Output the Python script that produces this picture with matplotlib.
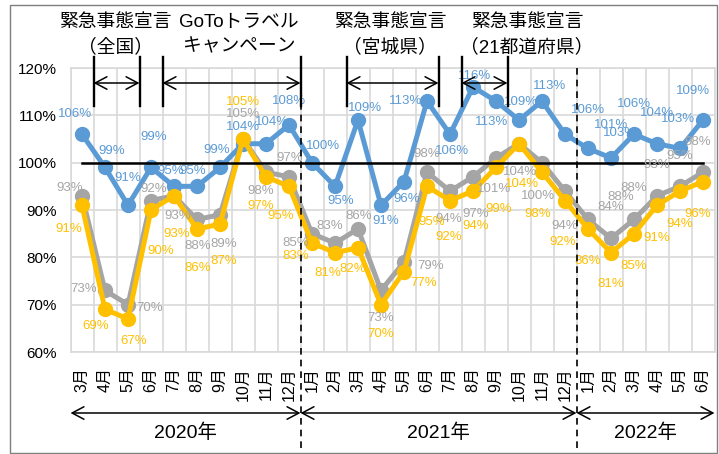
import numpy as np
import matplotlib
matplotlib.use("Agg")
import matplotlib.pyplot as plt
from matplotlib.patches import Rectangle

plt.rcParams['font.family'] = ['Liberation Sans', 'Noto Sans CJK JP']

# Data (monthly index, %)
months = ["3月", "4月", "5月", "6月", "7月", "8月", "9月", "10月", "11月", "12月",
          "1月", "2月", "3月", "4月", "5月", "6月", "7月", "8月", "9月", "10月", "11月", "12月",
          "1月", "2月", "3月", "4月", "5月", "6月"]
years = ["2020年", "2021年", "2022年"]
yearMonths = [10, 12, 6]
blue = [106, 99, 91, 99, 95, 95, 99, 104, 104, 108,
        100, 95, 109, 91, 96, 113, 106, 116, 113, 109, 113, 106,
        103, 101, 106, 104, 103, 109]
gray = [93, 73, 70, 92, 93, 88, 89, 105, 98, 97,
        85, 83, 86, 73, 79, 98, 94, 97, 101, 104, 100, 94,
        88, 84, 88, 93, 95, 98]
yellow = [91, 69, 67, 90, 93, 86, 87, 105, 97, 95,
          83, 81, 82, 70, 77, 95, 92, 94, 99, 104, 98, 92,
          86, 81, 85, 91, 94, 96]
baseline = 100

# Events: (first month index, last month index)
eventSpans = [(1, 2), (4, 9), (12, 15), (17, 18)]
eventLine1 = ["緊急事態宣言", "GoToトラベル", "緊急事態宣言", "緊急事態宣言"]
eventLine2 = ["（全国）", "キャンペーン", "（宮城県）", "（21都道府県）"]

# Layout / style
cBlue, cGray, cYellow = "#5B9BD5", "#A5A5A5", "#FFC000"
eventTextX = [1.45, 6.83, 13.39, 19.35]

# label offsets (pixels) for each point
offBlue = [(-7, 20), (7, 16), (0, 27), (3, 30), (-3, 15), (-4, 15), (-3, 17), (0, 17), (6, 22), (0, 24),
           (11, 17), (6, -15), (7, 12), (5, -16), (3, -17), (-21, 0), (2, -17), (2, 11), (-4, -21), (2, 18), (8, 15), (23, 24),
           (32, 15), (0, 33), (0, 30), (0, 31), (-2, 29), (-10, 29)]
offGray = [(-12, 8), (-21, 1), (22, -3), (3, 12), (4, -20), (1, -27), (4, -29), (0, 25), (-5, -19), (1, 19),
           (-16, -9), (-5, 17), (1, 13), (0, -28), (27, -4), (0, 18), (-1, -28), (3, -37), (-2, -31), (1, -28), (-4, -33), (0, -35),
           (33, 22), (0, 31), (0, 31), (0, 31), (0, 30), (-5, 30)]
offYellow = [(-13, -24), (-9, -17), (6, -22), (10, -41), (3, -38), (1, -39), (4, -37), (0, 37), (-5, -29), (-8, -30),
             (-16, -13), (-7, -20), (-5, -21), (0, -29), (20, -11), (5, -36), (-1, -36), (3, -35), (3, -42), (3, -40), (-4, -42), (-2, -41),
             (0, -32), (0, -31), (0, -32), (0, -33), (0, -33), (-5, -32)]

fig = plt.figure(figsize=(7.19, 4.54), dpi=100)
W, H = 719, 454
axL, axR, axT, axB = 70.5, 714.5, 68, 352
ax = fig.add_axes([axL / W, 1 - axB / H, (axR - axL) / W, (axB - axT) / H])

x = np.arange(len(months))
ax.set_xlim(-0.5, len(months) - 0.5)
ax.set_ylim(60, 120)

# grid
ax.set_yticks(np.arange(60, 121, 10))
ax.set_yticklabels([f"{v}%" for v in range(60, 121, 10)], fontsize=11)
ax.set_xticks(x)
ax.set_xticklabels(months, rotation=90, fontsize=11.5, va='top')
ax.set_xticks(np.arange(-0.5, len(months), 1), minor=True)
ax.tick_params(axis='both', which='both', length=0)
ax.tick_params(axis='y', pad=10)
ax.tick_params(axis='x', pad=11)
ax.grid(axis='y', color='#D9D9D9', lw=1.2)
ax.grid(axis='x', which='minor', color='#D9D9D9', lw=1.2)
ax.set_axisbelow(True)
for s in ax.spines.values():
    s.set_color('#D9D9D9')
    s.set_linewidth(1.2)

# series
for vals, c, z in [(gray, cGray, 3), (yellow, cYellow, 4), (blue, cBlue, 3)]:
    ax.plot(x, vals, color=c, lw=3.6, marker='o', ms=10, zorder=z)
ax.plot(x, [baseline] * len(x), color='black', lw=1.8, zorder=5)

# data labels
for vals, offs, c in [(blue, offBlue, cBlue), (gray, offGray, cGray), (yellow, offYellow, cYellow)]:
    for i, v in enumerate(vals):
        ax.annotate(f"{v}%", (i, v), xytext=offs[i], textcoords='offset pixels',
                    ha='center', va='center', color=c, fontsize=9.5, zorder=6,
                    annotation_clip=False)

def fy(ypx):
    return (axB - ypx) / (axB - axT)

tr = ax.get_xaxis_transform()
arrowStyle = '<->,head_length=0.85,head_width=0.45'

# event markers
for (a, b), tx, l1, l2 in zip(eventSpans, eventTextX, eventLine1, eventLine2):
    x0, x1 = a - 0.5, b + 0.5
    for xv in (x0, x1):
        ax.plot([xv, xv], [fy(57), fy(106)], transform=tr, color='black', lw=1.7,
                clip_on=False, zorder=7)
    ax.annotate('', xy=(x1, fy(83)), xytext=(x0, fy(83)), xycoords=tr, textcoords=tr,
                arrowprops=dict(arrowstyle=arrowStyle, lw=1.1, color='black',
                                shrinkA=0, shrinkB=0), zorder=7)
    ax.text(tx, fy(23), l1, transform=tr, ha='center', va='center', fontsize=13.5)
    ax.text(tx, fy(47), l2, transform=tr, ha='center', va='center', fontsize=13.5)

# year brackets
start = -0.5
for yl, n in zip(years, yearMonths):
    end = start + n
    ax.annotate('', xy=(end, fy(413)), xytext=(start, fy(413)), xycoords=tr, textcoords=tr,
                arrowprops=dict(arrowstyle=arrowStyle, lw=1.1, color='black',
                                shrinkA=0, shrinkB=0))
    ax.text((start + end) / 2, fy(433), yl, transform=tr, ha='center', va='center', fontsize=14)
    if end < len(months) - 0.5:
        ax.plot([end, end], [1.0, fy(452)], transform=tr, color='black', lw=1.2,
                ls=(0, (4, 3)), clip_on=False, zorder=7)
    start = end

# figure border
fig.patches.append(Rectangle((10 / W, 1.5 / H), (717 - 10) / W, (451 - 3) / H,
                             transform=fig.transFigure, fill=False, ec='#7F7F7F', lw=1))

fig.savefig("out.png", dpi=100)
